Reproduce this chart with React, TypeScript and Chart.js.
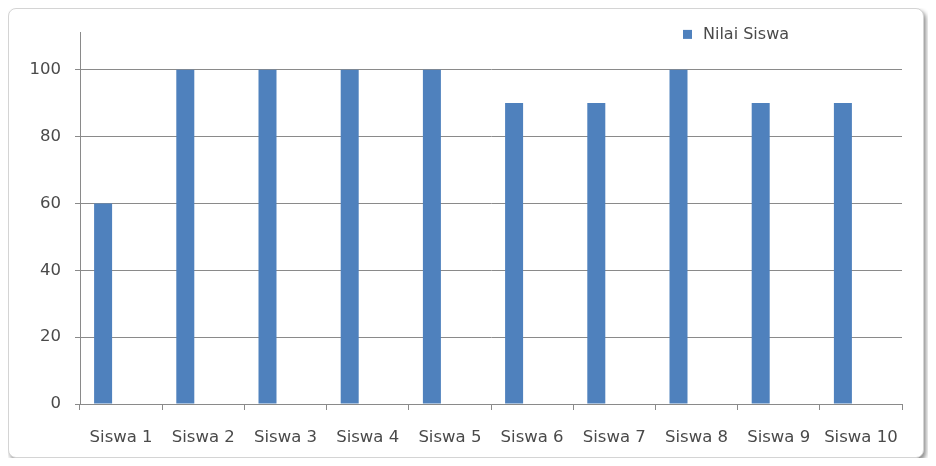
import React, { useEffect, useRef } from "react";
import { Chart, registerables } from "chart.js";

Chart.register(...registerables);

const categories = ["Siswa 1", "Siswa 2", "Siswa 3", "Siswa 4", "Siswa 5", "Siswa 6", "Siswa 7", "Siswa 8", "Siswa 9", "Siswa 10"];
const nilaiSiswa = [60, 100, 100, 100, 100, 90, 90, 100, 90, 90];
const emptySeries = categories.map(() => null);
const yTicks = [0, 20, 40, 60, 80, 100];
const seriesLabel = "Nilai Siswa";

const FONT = "'DejaVu Sans', Verdana, sans-serif";
const TEXT = "#4a4a4a";
const GRID = "#8a8a8a";
const BAR = "#4F81BD";

const legendPlugin = {
  id: "cornerLegend",
  afterDraw(chart: any) {
    const { ctx, chartArea } = chart;
    ctx.save();
    const sx = chartArea.right - 219;
    const cy = chartArea.top + 1.5;
    ctx.fillStyle = BAR;
    ctx.fillRect(sx, cy - 4.5, 9, 9);
    ctx.fillStyle = TEXT;
    ctx.font = `16px ${FONT}`;
    ctx.textBaseline = "middle";
    ctx.textAlign = "left";
    ctx.fillText(chart.data.datasets[0].label, sx + 20, cy);
    ctx.restore();
  },
};

export default function App() {
  const ref = useRef<HTMLCanvasElement>(null);
  useEffect(() => {
    if (!ref.current) return;
    const chart = new Chart(ref.current, {
      type: "bar",
      data: {
        labels: categories,
        datasets: [
          { label: seriesLabel, data: nilaiSiswa, backgroundColor: BAR, borderWidth: 0 },
          { label: "", data: emptySeries as any, backgroundColor: BAR },
          { label: "", data: emptySeries as any, backgroundColor: BAR },
        ],
      },
      options: {
        responsive: false,
        animation: false,
        events: [],
        datasets: { bar: { categoryPercentage: 0.657, barPercentage: 1 } },
        layout: { padding: { top: 23, right: 21, left: 0, bottom: 0 } },
        plugins: { legend: { display: false }, tooltip: { enabled: false }, title: { display: false } },
        scales: {
          x: {
            offset: true,
            grid: { offset: true, drawOnChartArea: false, drawTicks: true, tickLength: 6, color: GRID },
            border: { display: true, color: GRID, width: 1 },
            ticks: { color: TEXT, font: { family: FONT, size: 16.5 }, padding: 18, maxRotation: 0, autoSkip: false },
            afterFit: (s: any) => { s.height = 53; },
          },
          y: {
            min: 0,
            max: 111,
            afterBuildTicks: (axis: any) => { axis.ticks = yTicks.map((v) => ({ value: v })); },
            grid: { color: GRID, tickLength: 5, drawTicks: true },
            border: { display: true, color: GRID, width: 1 },
            ticks: { color: TEXT, font: { family: FONT, size: 16.5 }, padding: 14 },
            afterFit: (s: any) => { s.width = 71; },
          },
        },
      },
      plugins: [legendPlugin],
    });
    return () => chart.destroy();
  }, []);
  return (
    <div
      style={{
        position: "relative",
        width: 916,
        height: 450,
        boxSizing: "border-box",
        border: "1px solid #d4d4d4",
        borderRadius: 8,
        boxShadow: "2px 3px 4px rgba(0,0,0,0.45)",
        background: "#fff",
      }}
    >
      <canvas ref={ref} width={914} height={448} style={{ display: "block" }} />
    </div>
  );
}
